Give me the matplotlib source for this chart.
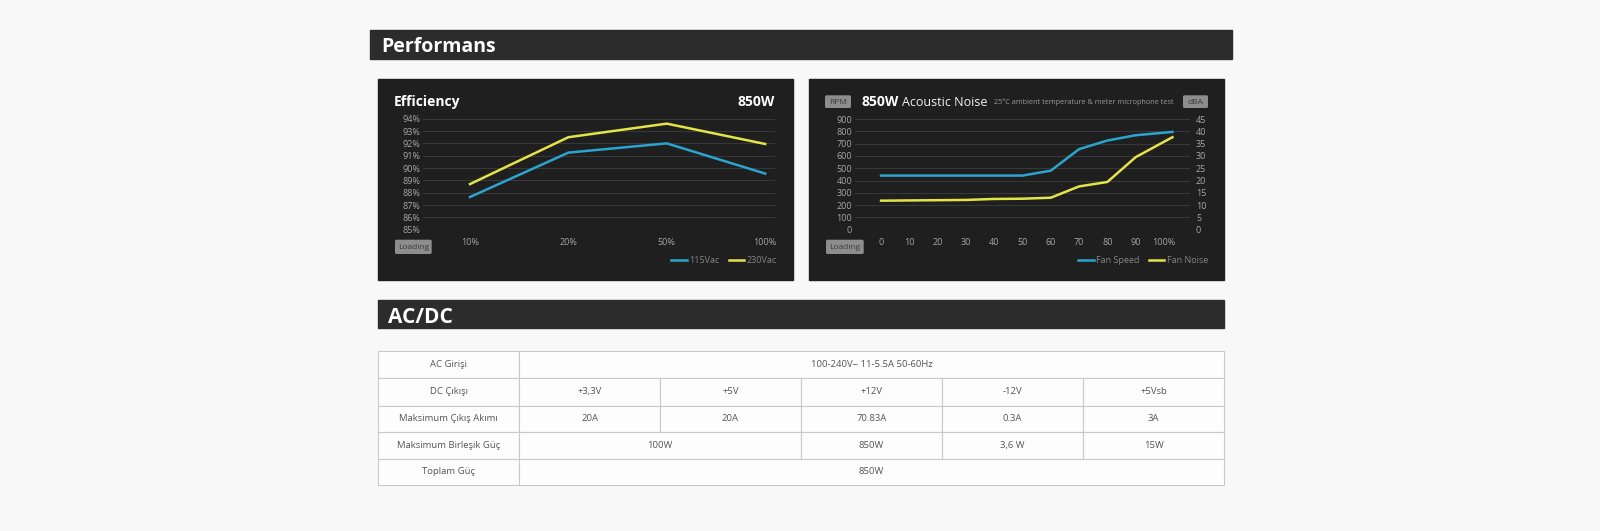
"""Performans / AC-DC spec panel: efficiency and acoustic noise curves plus the rail table."""
import matplotlib
matplotlib.use("Agg")
import matplotlib.pyplot as plt  # noqa: E402
from matplotlib.patches import Rectangle, FancyBboxPatch  # noqa: E402

plt.rcParams["font.family"] = ["Open Sans", "DejaVu Sans"]

# --- efficiency (850W) ---
eff_loads = ["10%", "20%", "50%", "100%"]
eff_115 = [87.65, 91.25, 92.0, 89.55]
eff_230 = [88.7, 92.5, 93.6, 91.95]
eff_ticks = list(range(85, 95))

# --- acoustic noise (850W) ---
noise_load = [0, 10, 20, 30, 40, 50, 60, 70, 80, 90, 103]
fan_speed = [440, 440, 440, 440, 440, 440, 480, 655, 725, 768, 795]
fan_noise = [11.8, 11.9, 12.0, 12.1, 12.5, 12.6, 13.0, 17.6, 19.4, 29.5, 37.6]
load_ticks = [0, 10, 20, 30, 40, 50, 60, 70, 80, 90, 100]
load_labels = ["0", "10", "20", "30", "40", "50", "60", "70", "80", "90", "100%"]
rpm_ticks = list(range(0, 901, 100))
dba_ticks = list(range(0, 46, 5))

# --- AC/DC table ---
row_labels = ["AC Girişi", "DC Çıkışı", "Maksimum Çıkış Akımı", "Maksimum Birleşik Güç", "Toplam Güç"]
ac_input = "100-240V~ 11-5.5A 50-60Hz"
dc_outputs = ["+3,3V", "+5V", "+12V", "-12V", "+5Vsb"]
max_current = ["20A", "20A", "70.83A", "0.3A", "3A"]
combined_power = ["100W", "850W", "3,6 W", "15W"]
combined_span = [2, 1, 1, 1]
total_power = "850W"

W, H = 1600, 531
BLUE = "#2ba5cf"
YELLOW = "#e4e448"
PANEL = "#1f1f1f"
BAR = "#2c2c2c"
TICK = "#a6a6a6"


def frac(x0, y0, x1, y1):
    return [x0 / W, 1 - y1 / H, (x1 - x0) / W, (y1 - y0) / H]


def gray_tag(ax, x0, y0, x1, y1, text):
    ax.add_patch(FancyBboxPatch((x0, y0), x1 - x0, y1 - y0, boxstyle="round,pad=0,rounding_size=1.5",
                                fc="#8d8d8d", ec="none"))
    ax.text((x0 + x1) / 2, (y0 + y1) / 2 + 0.5, text, fontsize=6, color="#3a3a3a", ha="center", va="center")


def style_axes(ax):
    ax.set_facecolor("none")
    for s in ax.spines.values():
        s.set_visible(False)


fig = plt.figure(figsize=(W / 100, H / 100), dpi=100, facecolor="#f8f8f8")

bg = fig.add_axes([0, 0, 1, 1])
bg.set_xlim(0, W)
bg.set_ylim(H, 0)
bg.axis("off")

# section headers and dark panels
bg.add_patch(Rectangle((370, 30), 862, 29, color=BAR))
bg.text(381, 52.3, "Performans", color="white", fontsize=14, fontweight="bold", va="baseline")
bg.add_patch(Rectangle((378, 79), 415, 201, color=PANEL))
bg.add_patch(Rectangle((809, 79), 415, 201, color=PANEL))
bg.add_patch(Rectangle((378, 300), 846, 28, color=BAR))
bg.text(388, 323.3, "AC/DC", color="white", fontsize=15, fontweight="bold", va="baseline")

# efficiency panel texts
bg.text(394, 106.3, "Efficiency", color="white", fontsize=10, fontweight="bold", va="baseline")
bg.text(775, 106.3, "850W", color="white", fontsize=10, fontweight="bold", va="baseline", ha="right")
gray_tag(bg, 395, 239.7, 431.7, 254, "Loading")

# noise panel texts
gray_tag(bg, 825, 95.3, 851, 108, "RPM")
gray_tag(bg, 1183, 95.3, 1208, 108, "dBA")
gray_tag(bg, 826, 239.7, 863.7, 254, "Loading")
bg.text(862, 106.3, "850W", color="white", fontsize=10, fontweight="bold", va="baseline")
bg.text(902, 106.3, "Acoustic Noise", color="#f2f2f2", fontsize=9, va="baseline")
bg.text(994, 104.5, "25°C ambient temperature & meter microphone test", color="#9a9a9a",
        fontsize=5.2, va="baseline")

# --- efficiency chart ---
ax = fig.add_axes(frac(423, 118.7, 775, 229.7))
style_axes(ax)
xs = list(range(len(eff_loads)))
l1, = ax.plot(xs, eff_115, color=BLUE, lw=1.8, solid_joinstyle="miter", label="115Vac")
l2, = ax.plot(xs, eff_230, color=YELLOW, lw=1.8, solid_joinstyle="miter", label="230Vac")
ax.set_xlim(-0.478, 3.10)
ax.set_ylim(85, 94)
ax.set_yticks(eff_ticks, [f"{v}%" for v in eff_ticks])
ax.set_xticks(xs, eff_loads)
ax.tick_params(length=0, labelsize=6.5, colors=TICK)
ax.tick_params(axis="y", pad=2)
ax.tick_params(axis="x", pad=6)
ax.grid(axis="y", color="#393939", lw=0.7)
ax.set_axisbelow(True)
ax.legend(handles=[l1, l2], loc="center right", bbox_to_anchor=(777 / W, 1 - 260.7 / H),
          bbox_transform=fig.transFigure, ncol=2, frameon=False, fontsize=6.5, labelcolor="#858585",
          handlelength=1.7, handletextpad=0.3, columnspacing=1.0, borderpad=0, borderaxespad=0)

# --- acoustic noise chart ---
ax = fig.add_axes(frac(855, 119, 1190, 229.7))
style_axes(ax)
ax2 = ax.twinx()
style_axes(ax2)
s1, = ax.plot(noise_load, fan_speed, color=BLUE, lw=1.8, label="Fan Speed")
s2, = ax2.plot(noise_load, fan_noise, color=YELLOW, lw=1.8, label="Fan Noise")
ax.set_xlim(-9.2, 109.2)
ax.set_ylim(0, 900)
ax2.set_ylim(0, 45)
ax.set_yticks(rpm_ticks)
ax2.set_yticks(dba_ticks)
ax.set_xticks(load_ticks, load_labels)
ax.tick_params(length=0, labelsize=6.5, colors=TICK)
ax2.tick_params(length=0, labelsize=6.5, colors=TICK)
ax.tick_params(axis="y", pad=2)
ax2.tick_params(axis="y", pad=4.3)
ax.tick_params(axis="x", pad=6)
ax.grid(axis="y", color="#393939", lw=0.7)
ax.set_axisbelow(True)
ax.legend(handles=[s1, s2], loc="center right", bbox_to_anchor=(1208 / W, 1 - 260.7 / H),
          bbox_transform=fig.transFigure, ncol=2, frameon=False, fontsize=6.5, labelcolor="#858585",
          handlelength=1.7, handletextpad=0.3, columnspacing=1.0, borderpad=0, borderaxespad=0)

# --- AC/DC table ---
tx0, tx1, tcol = 378, 1224, 519
cw = (tx1 - tcol) / 5
row_edges = [351, 378, 405.5, 432, 459, 485]
rows = [
    ([ac_input], [5]),
    (dc_outputs, [1] * 5),
    (max_current, [1] * 5),
    (combined_power, combined_span),
    ([total_power], [5]),
]
edge = "#c9c9c9"
tcolor = "#555555"
for i, (label, (cells, spans)) in enumerate(zip(row_labels, rows)):
    top, bot = row_edges[i], row_edges[i + 1]
    mid = (top + bot) / 2
    bg.add_patch(Rectangle((tx0, top), tcol - tx0, bot - top, fc="#fdfdfd", ec=edge, lw=0.8))
    bg.text((tx0 + tcol) / 2, mid, label, fontsize=6.8, color=tcolor, ha="center", va="center")
    x = tcol
    for text, span in zip(cells, spans):
        bg.add_patch(Rectangle((x, top), cw * span, bot - top, fc="#fdfdfd", ec=edge, lw=0.8))
        bg.text(x + cw * span / 2, mid, text, fontsize=6.8, color=tcolor, ha="center", va="center")
        x += cw * span

fig.savefig("out.png", dpi=100, facecolor=fig.get_facecolor())
